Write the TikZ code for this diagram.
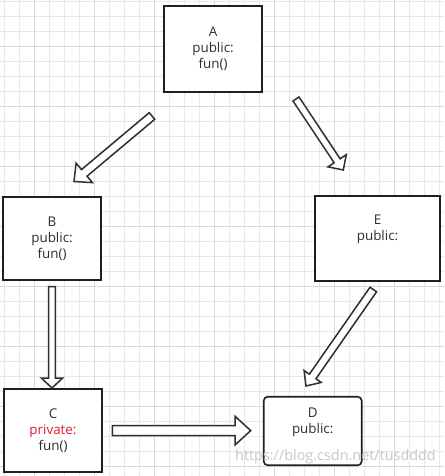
\documentclass[tikz,border=0pt]{standalone}
\usepackage{fontspec}
\setmainfont{Open Sans}
\usetikzlibrary{calc}

\definecolor{privred}{RGB}{224,30,40}

\begin{document}
\begin{tikzpicture}[x=1pt,y=-1pt]
\tikzset{
  classbox/.style={draw=black!88,line width=1.6pt,fill=white,align=center,text=black!82,
    font=\fontsize{13.4}{16}\selectfont,inner sep=0pt},
  blockarrow/.style n args={3}{draw=black!82,line width=1.5pt,fill=white,line join=miter,
    to path={($(\tikztostart)!#1pt!90:(\tikztotarget)$)
      -- ($(\tikztotarget)!#3pt!(\tikztostart)!#1pt!-90:(\tikztostart)$)
      -- ($(\tikztotarget)!#3pt!(\tikztostart)!#2pt!-90:(\tikztostart)$)
      -- (\tikztotarget)
      -- ($(\tikztotarget)!#3pt!(\tikztostart)!#2pt!90:(\tikztostart)$)
      -- ($(\tikztotarget)!#3pt!(\tikztostart)!#1pt!90:(\tikztostart)$)
      -- ($(\tikztostart)!#1pt!-90:(\tikztotarget)$) -- cycle}},
  minorgrid/.style={draw=black!9,line width=0.8pt},
  majorgrid/.style={draw=black!15,line width=0.8pt}
}
% page and grid
\fill[white] (0,0) rectangle (444,476);
\useasboundingbox (0,0) rectangle (444,476);
\foreach \gx in {4,19,...,439} \draw[minorgrid] (\gx,0) -- (\gx,476);
\foreach \gy in {1,16,...,476} \draw[minorgrid] (0,\gy) -- (444,\gy);
\foreach \gx in {34,94,...,394} \draw[majorgrid] (\gx,0) -- (\gx,476);
\foreach \gy in {46,106,...,466} \draw[majorgrid] (0,\gy) -- (444,\gy);
% classes
\node[classbox,minimum width=98.5,minimum height=85.5] (n_A) at (213,49) {A\\public:\\fun()};
\node[classbox,minimum width=98.5,minimum height=83.5] (n_B) at (52,238.5) {B\\public:\\fun()};
\node[classbox,minimum width=125.5,minimum height=85.5] (n_E) at (377.5,238.5) {E\\public:\\\strut};
\node[classbox,minimum width=98.5,minimum height=83.5] (n_C) at (53,430.5) {C\\{\color{privred}private:}\\fun()};
\node[classbox,rounded corners=4pt,minimum width=98,minimum height=68.5] (n_D) at (312.7,431) {D\\public:\\\strut};
% arrow ends
\coordinate (c_ab0) at (152,116);
\coordinate (c_ab1) at (74,181.5);
\coordinate (c_ae0) at (296,99);
\coordinate (c_ae1) at (343.3,170);
\coordinate (c_ed0) at (373.3,289.5);
\coordinate (c_ed1) at (306,386);
\coordinate (c_bc0) at (52,286.7);
\coordinate (c_bc1) at (52,388);
\coordinate (c_cd0) at (112.3,430.6);
\coordinate (c_cd1) at (250.7,430.6);
\draw[blockarrow={4.3}{12.7}{13.4}] (c_ab0) to (c_ab1);
\draw[blockarrow={3.6}{11}{11.1}] (c_ae0) to (c_ae1);
\draw[blockarrow={4}{10.4}{11.6}] (c_ed0) to (c_ed1);
\draw[blockarrow={3.4}{10.7}{10}] (c_bc0) to (c_bc1);
\draw[blockarrow={4.9}{14.4}{15.7}] (c_cd0) to (c_cd1);
% watermark
\node[font=\fontsize{14.4}{14.4}\selectfont,text=black!22] (n_wm) at (335.5,456.5) {https://blog.csdn.net/tusdddd};
\end{tikzpicture}
\end{document}
